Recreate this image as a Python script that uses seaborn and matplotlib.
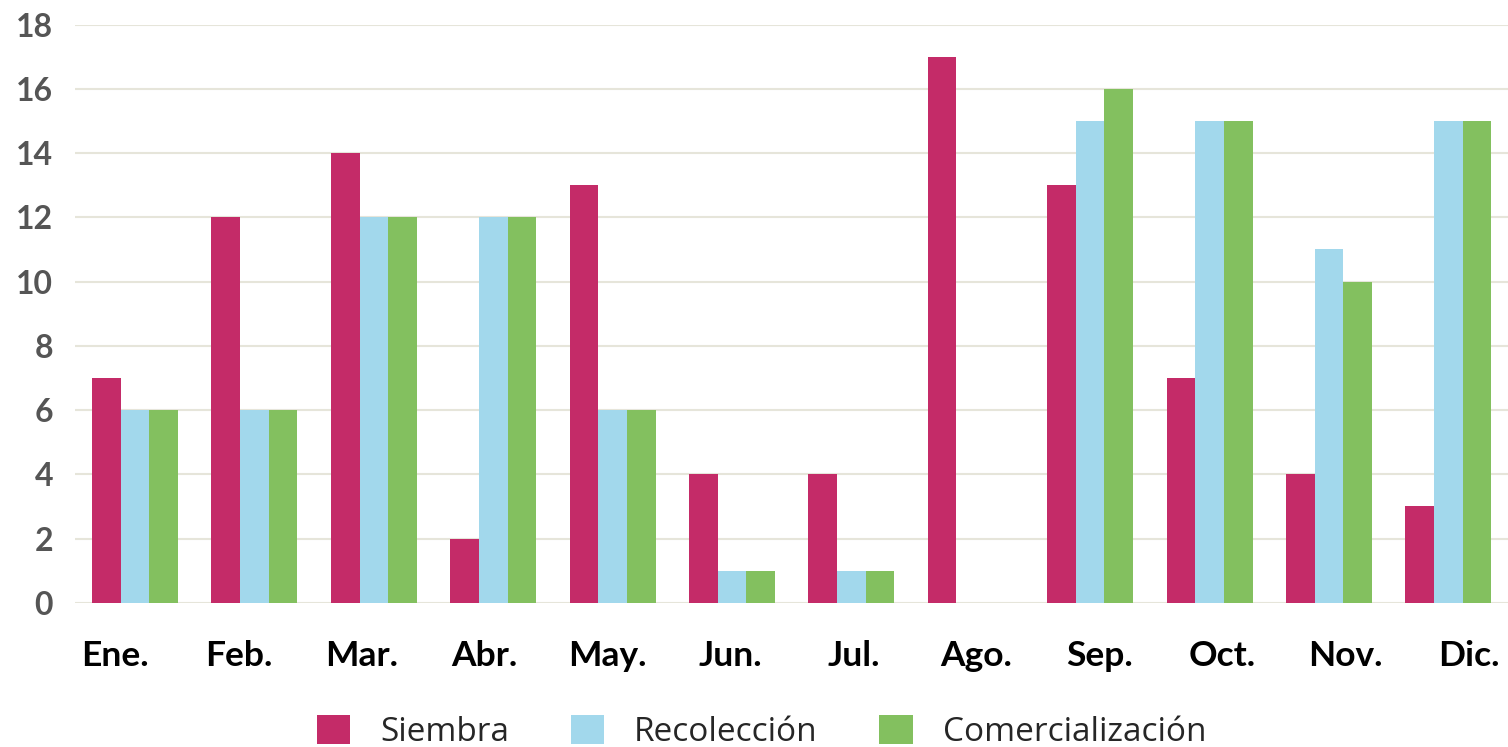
import numpy as np
import pandas as pd
import matplotlib.pyplot as plt
import seaborn as sns

meses = ["Ene.", "Feb.", "Mar.", "Abr.", "May.", "Jun.", "Jul.", "Ago.", "Sep.", "Oct.", "Nov.", "Dic."]
siembra = [7, 12, 14, 2, 13, 4, 4, 17, 13, 7, 4, 3]
recoleccion = [6, 6, 12, 12, 6, 1, 1, 0, 15, 15, 11, 15]
comercializacion = [6, 6, 12, 12, 6, 1, 1, 0, 16, 15, 10, 15]

series = ["Siembra", "Recolección", "Comercialización"]
colores = ["#C42B68", "#A2D8EC", "#83C05F"]

# long-form table for seaborn
df = pd.DataFrame({
    "mes": meses * 3,
    "valor": siembra + recoleccion + comercializacion,
    "serie": np.repeat(series, len(meses)),
})

sns.set_theme(style="white")
plt.rcParams['font.family'] = ['Lato', 'DejaVu Sans']

fig = plt.figure(figsize=(15.08, 7.47), dpi=100)
ax = fig.add_axes([0.05, 0.193, 0.95, 0.774])

sns.barplot(data=df, x="mes", y="valor", hue="serie", palette=colores,
            width=0.72, gap=0, saturation=1, linewidth=0, ax=ax, legend=True)

ax.set_ylim(0, 18)
ax.set_xlim(-0.5, 11.5)
ax.set_yticks(range(0, 19, 2))
ax.yaxis.grid(True, color="#E6E5DA", linewidth=1.5)
ax.set_axisbelow(True)
ax.set_xlabel("")
ax.set_ylabel("")
for s in ax.spines.values():
    s.set_visible(False)

# month labels in the original are spread a little wider than the groups
ax.set_xticks(np.linspace(-0.165, 11.17, len(meses)), meses)
ax.tick_params(axis="x", length=0, pad=27)
ax.tick_params(axis="y", length=0, pad=16)
for t in ax.get_xticklabels():
    t.set_fontsize(25.5)
    t.set_fontweight("bold")
    t.set_color("black")
for t in ax.get_yticklabels():
    t.set_fontsize(23)
    t.set_fontweight("bold")
    t.set_color("#555555")

handles, labels = ax.get_legend_handles_labels()
ax.legend_.remove()
fig.legend(handles, labels, loc="lower center", bbox_to_anchor=(0.505, -0.007),
           ncol=3, frameon=False, handlelength=1.0, handleheight=1.0,
           handletextpad=0.9, columnspacing=1.85, borderpad=0.1, borderaxespad=0,
           prop={"family": ["Open Sans", "DejaVu Sans"], "size": 24})

fig.savefig("out.png", dpi=100)
